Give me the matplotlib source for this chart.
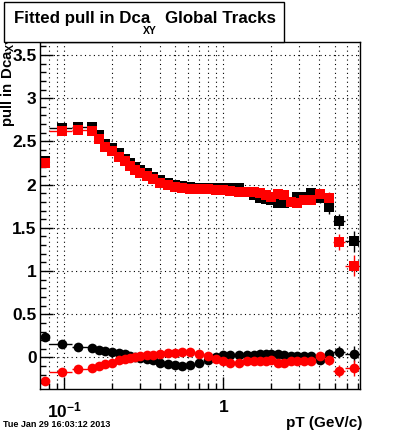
import matplotlib
matplotlib.use('Agg')
import matplotlib.pyplot as plt
import matplotlib.ticker as mticker
from matplotlib.patches import Rectangle
import numpy as np

plt.rcParams['font.family'] = ['Liberation Sans', 'DejaVu Sans']
plt.rcParams['font.weight'] = 'bold'
plt.rcParams['mathtext.fontset'] = 'custom'
plt.rcParams['mathtext.rm'] = 'Liberation Sans:bold'
plt.rcParams['mathtext.bf'] = 'Liberation Sans:bold'
plt.rcParams['mathtext.it'] = 'Liberation Sans:bold'

# bin centres and edges in pT (GeV/c)
pt = [0.0755, 0.0967, 0.1215, 0.150, 0.165, 0.18, 0.20, 0.22, 0.24, 0.26,
      0.28, 0.30, 0.33, 0.36, 0.40, 0.45, 0.50, 0.55, 0.62, 0.70,
      0.80, 0.90, 1.0, 1.1, 1.25, 1.4, 1.55, 1.7, 1.85, 2.0,
      2.2, 2.4, 2.65, 2.9, 3.2, 3.54, 4.05, 4.6, 5.35, 6.57]
pt_edges = [0.07, 0.08, 0.112, 0.142, 0.158, 0.172, 0.19, 0.21, 0.23, 0.25,
            0.27, 0.29, 0.315, 0.345, 0.38, 0.425, 0.475, 0.525, 0.585, 0.66,
            0.75, 0.85, 0.95, 1.05, 1.175, 1.325, 1.475, 1.625, 1.775, 1.925,
            2.1, 2.3, 2.525, 2.775, 3.05, 3.35, 3.8, 4.3, 4.9, 5.8, 7.3]

# fitted sigma (pull width)
sigma_black = [2.27, 2.65, 2.67, 2.665, 2.57, 2.47, 2.42, 2.36, 2.30, 2.25,
               2.20, 2.17, 2.13, 2.09, 2.05, 2.02, 1.995, 1.98, 1.97, 1.965,
               1.96, 1.96, 1.96, 1.96, 1.955, 1.92, 1.88, 1.85, 1.83, 1.82,
               1.79, 1.79, 1.80, 1.86, 1.86, 1.90, 1.84, 1.74, 1.575, 1.345]
sigma_red = [2.25, 2.62, 2.63, 2.62, 2.53, 2.44, 2.39, 2.32, 2.27, 2.22,
             2.17, 2.14, 2.10, 2.06, 2.02, 1.99, 1.97, 1.96, 1.95, 1.95,
             1.945, 1.94, 1.94, 1.93, 1.92, 1.91, 1.91, 1.90, 1.88, 1.86,
             1.89, 1.88, 1.80, 1.79, 1.82, 1.82, 1.895, 1.84, 1.335, 1.063]
sigma_err = [0.01, 0.01, 0.01, 0.01, 0.005, 0.005, 0.005, 0.005, 0.005, 0.005,
             0.005, 0.005, 0.005, 0.005, 0.005, 0.005, 0.005, 0.005, 0.005, 0.005,
             0.005, 0.005, 0.005, 0.005, 0.005, 0.01, 0.01, 0.01, 0.01, 0.01,
             0.015, 0.015, 0.02, 0.02, 0.03, 0.04, 0.05, 0.08, 0.09, 0.12]

# fitted mean
mean_black = [0.234, 0.156, 0.118, 0.106, 0.09, 0.075, 0.06, 0.047, 0.035, 0.021,
              0.01, -0.002, -0.02, -0.035, -0.06, -0.08, -0.09, -0.095, -0.085, -0.06,
              -0.025, 0.01, 0.03, 0.03, 0.03, 0.025, 0.03, 0.035, 0.04, 0.04,
              0.035, 0.03, 0.02, 0.02, 0.015, 0.02, -0.025, 0.04, 0.064, 0.04]
mean_red = [-0.268, -0.172, -0.137, -0.125, -0.10, -0.08, -0.06, -0.035, -0.02, -0.005,
            0.005, 0.015, 0.025, 0.033, 0.04, 0.048, 0.055, 0.06, 0.058, 0.045,
            0.015, -0.015, -0.04, -0.06, -0.065, -0.045, -0.04, -0.04, -0.04, -0.035,
            -0.06, -0.065, -0.045, -0.04, -0.04, -0.04, 0.017, -0.029, -0.156, -0.12]
mean_err = [0.01, 0.01, 0.01, 0.01, 0.005, 0.005, 0.005, 0.005, 0.005, 0.005,
            0.005, 0.005, 0.005, 0.005, 0.005, 0.005, 0.005, 0.005, 0.005, 0.005,
            0.005, 0.005, 0.005, 0.005, 0.005, 0.01, 0.01, 0.01, 0.01, 0.01,
            0.01, 0.01, 0.015, 0.015, 0.02, 0.03, 0.04, 0.06, 0.07, 0.09]

pt_arr = np.array(pt)
edges = np.array(pt_edges)
xerr = [pt_arr - edges[:-1], edges[1:] - pt_arr]

fig = plt.figure(figsize=(4, 4.33), dpi=100)
ax = fig.add_axes([0.1, 1 - 389 / 433, 0.8, 347 / 433])

ms = 7
for vals, err, col, mk in [(sigma_black, sigma_err, 'black', 's'),
                           (mean_black, mean_err, 'black', 'o'),
                           (sigma_red, sigma_err, 'red', 's'),
                           (mean_red, mean_err, 'red', 'o')]:
    ax.errorbar(pt, vals, xerr=xerr, yerr=err, fmt=mk, color=col, ms=ms,
                mew=0, elinewidth=1, capsize=0)

ax.set_xscale('log')
ax.set_xlim(0.0706, 7.2)
ax.set_ylim(-0.365, 3.65)

ax.xaxis.set_major_locator(mticker.FixedLocator([0.1, 1]))
ax.xaxis.set_minor_locator(mticker.LogLocator(base=10, subs=np.arange(2, 10), numticks=20))
ax.xaxis.set_minor_formatter(mticker.NullFormatter())
ax.set_xticklabels([r'$10^{-1}$', '1'])
ax.yaxis.set_major_locator(mticker.MultipleLocator(0.5))
ax.yaxis.set_minor_locator(mticker.MultipleLocator(0.1))
ax.yaxis.set_major_formatter(mticker.FuncFormatter(lambda v, p: ('%g' % v)))

ax.tick_params(which='both', direction='in', top=False, right=False, labelsize=12.5)
ax.tick_params(which='major', length=9, width=1)
ax.tick_params(which='minor', length=4.5, width=1)
ax.tick_params(axis='x', pad=8, labelsize=12.5)
ax.tick_params(axis='y', pad=2.5)

ax.grid(True, which='major', axis='y', color='black', linestyle=(0, (1, 3)), linewidth=0.8)
ax.grid(True, which='both', axis='x', color='black', linestyle=(0, (1, 3)), linewidth=0.8)
ax.set_axisbelow(True)
for s in ax.spines.values():
    s.set_linewidth(1)

# axis titles
fig.text(362 / 400, 1 - 423 / 433, 'pT (GeV/c)', ha='right', va='center', fontsize=11)
fig.text(8.5 / 400, 1 - 35 / 433, r'pull in Dca$_{XY}$', rotation=90, ha='center',
         va='top', fontsize=10.8)

# title box
fig.patches.append(Rectangle((4 / 400, 1 - 42 / 433), 280 / 400, 40 / 433,
                             transform=fig.transFigure, facecolor='white',
                             edgecolor='black', linewidth=1, zorder=5))
fig.text(14.5 / 400, 1 - 22.7 / 433, 'Fitted pull in Dca', ha='left', va='baseline',
         fontsize=12.2, zorder=6)
fig.text(143 / 400, 1 - 34.3 / 433, 'XY', ha='left', va='baseline', fontsize=7.5, zorder=6)
fig.text(165 / 400, 1 - 22.7 / 433, 'Global Tracks', ha='left', va='baseline',
         fontsize=12.2, zorder=6)

fig.text(3 / 400, 1 - 424.5 / 433, 'Tue Jan 29 16:03:12 2013', ha='left', va='center', fontsize=6.5)

fig.savefig('out.png', dpi=100)
